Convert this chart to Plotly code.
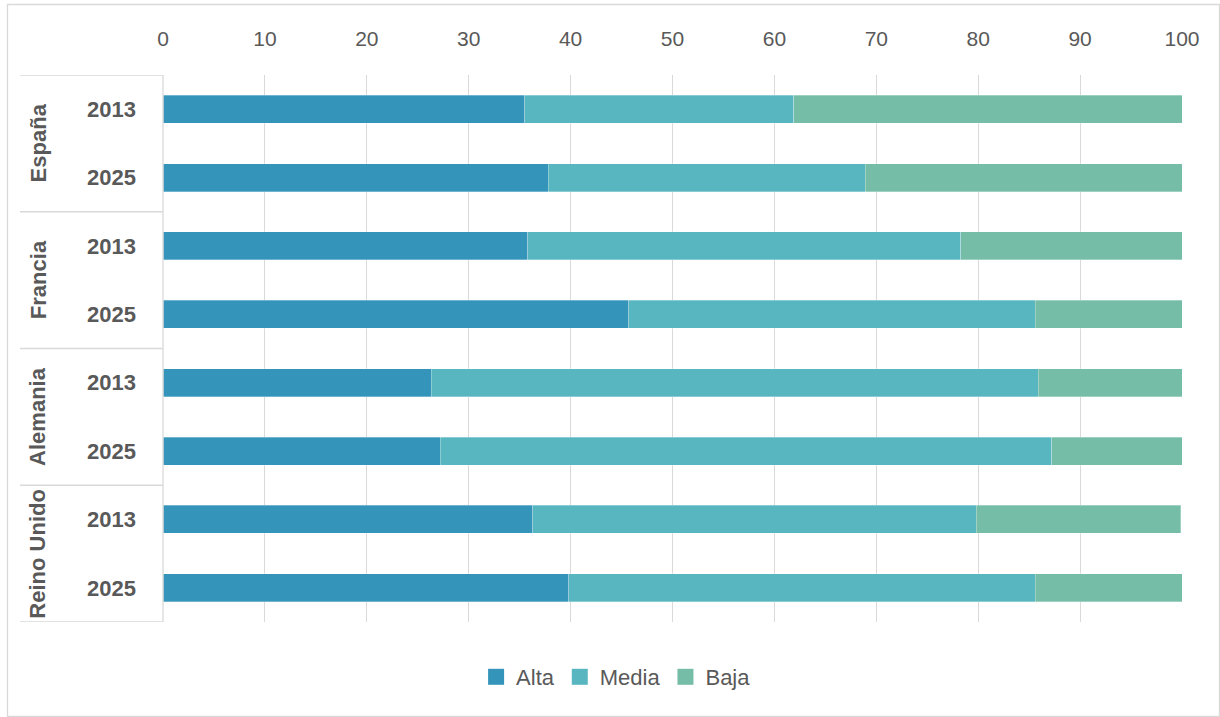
import plotly.graph_objects as go

countries = ["España", "Francia", "Alemania", "Reino Unido"]
years = ["2013", "2025"]
alta = [35.5, 37.8, 35.8, 45.7, 26.3, 27.2, 36.3, 39.8]
media = [26.4, 31.1, 42.5, 39.9, 59.6, 60.0, 43.5, 45.8]
baja = [38.1, 31.1, 21.7, 14.4, 14.1, 12.8, 20.1, 14.4]
series_names = ["Alta", "Media", "Baja"]
colors = ["#3494BA", "#58B6C0", "#75BDA7"]

row_labels = [y for c in countries for y in years]
rows = list(range(len(row_labels)))

FONT = "Liberation Sans, Arial, sans-serif"
GRAY = "#595959"
LINE = "#d9d9d9"

fig = go.Figure()
for name, vals, col in zip(series_names, [alta, media, baja], colors):
    fig.add_trace(go.Bar(
        y=rows, x=vals, orientation="h", name=name, showlegend=False,
        marker=dict(color=col, line=dict(color="rgba(255,255,255,0.5)", width=0.6)),
        width=0.41,
    ))
# legend entries with larger square swatches
for name, col in zip(series_names, colors):
    fig.add_trace(go.Scatter(
        x=[None], y=[None], mode="markers", name=name,
        marker=dict(symbol="square", size=16, color=col),
    ))

# plot area in px: x 163..1182, y 75..622
W, H = 1220, 717
L, R, T, B = 163, 1182, 75, 622
pw, ph = R - L, B - T
def px(xp): return (xp - L) / pw
def py(yp): return (B - yp) / ph

shapes = []
n_per = len(years)
for g in range(len(countries) + 1):
    yv = g * n_per - 0.5
    shapes.append(dict(type="line", xref="paper", yref="y", x0=px(20), x1=0,
                       y0=yv, y1=yv, line=dict(color=LINE, width=1.3)))
shapes.append(dict(type="line", xref="paper", yref="y", x0=0, x1=0,
                   y0=-0.5, y1=len(rows) - 0.5, line=dict(color=LINE, width=1.3)))
shapes.append(dict(type="rect", xref="paper", yref="paper", x0=px(7.5), x1=px(1219.5),
                   y0=py(716.5), y1=py(4.5), line=dict(color=LINE, width=1.3),
                   fillcolor="rgba(0,0,0,0)", layer="below"))

annotations = []
for i, c in enumerate(countries):
    annotations.append(dict(
        text="<b>%s</b>" % c, xref="paper", yref="y", x=px(38), y=i * n_per + (n_per - 1) / 2,
        textangle=-90, showarrow=False, xanchor="center", yanchor="middle",
        font=dict(family=FONT, size=22, color=GRAY)))

fig.update_layout(
    barmode="stack",
    width=W, height=H,
    margin=dict(l=L, r=W - R, t=T, b=H - B),
    paper_bgcolor="white", plot_bgcolor="white",
    font=dict(family=FONT, color=GRAY),
    shapes=shapes, annotations=annotations,
    legend=dict(orientation="h", xref="container", yref="container",
                x=0.505, y=(H - 677) / H, xanchor="center", yanchor="middle",
                font=dict(family=FONT, size=22, color=GRAY), traceorder="normal",
                itemsizing="trace", itemwidth=30),
    xaxis=dict(side="top", range=[0, 100], dtick=10, tick0=0,
               showgrid=True, gridcolor=LINE, gridwidth=1.3, zeroline=False,
               showline=False, ticks="", ticklabelstandoff=24,
               tickfont=dict(family=FONT, size=21, color=GRAY)),
    yaxis=dict(range=[len(rows) - 0.5, -0.5], tickmode="array", tickvals=rows,
               ticktext=["<b>%s</b>" % t for t in row_labels], showgrid=False,
               zeroline=False, showline=False, ticks="", ticklabelstandoff=26,
               tickfont=dict(family=FONT, size=22, color=GRAY)),
)

fig.write_html("out.html")
